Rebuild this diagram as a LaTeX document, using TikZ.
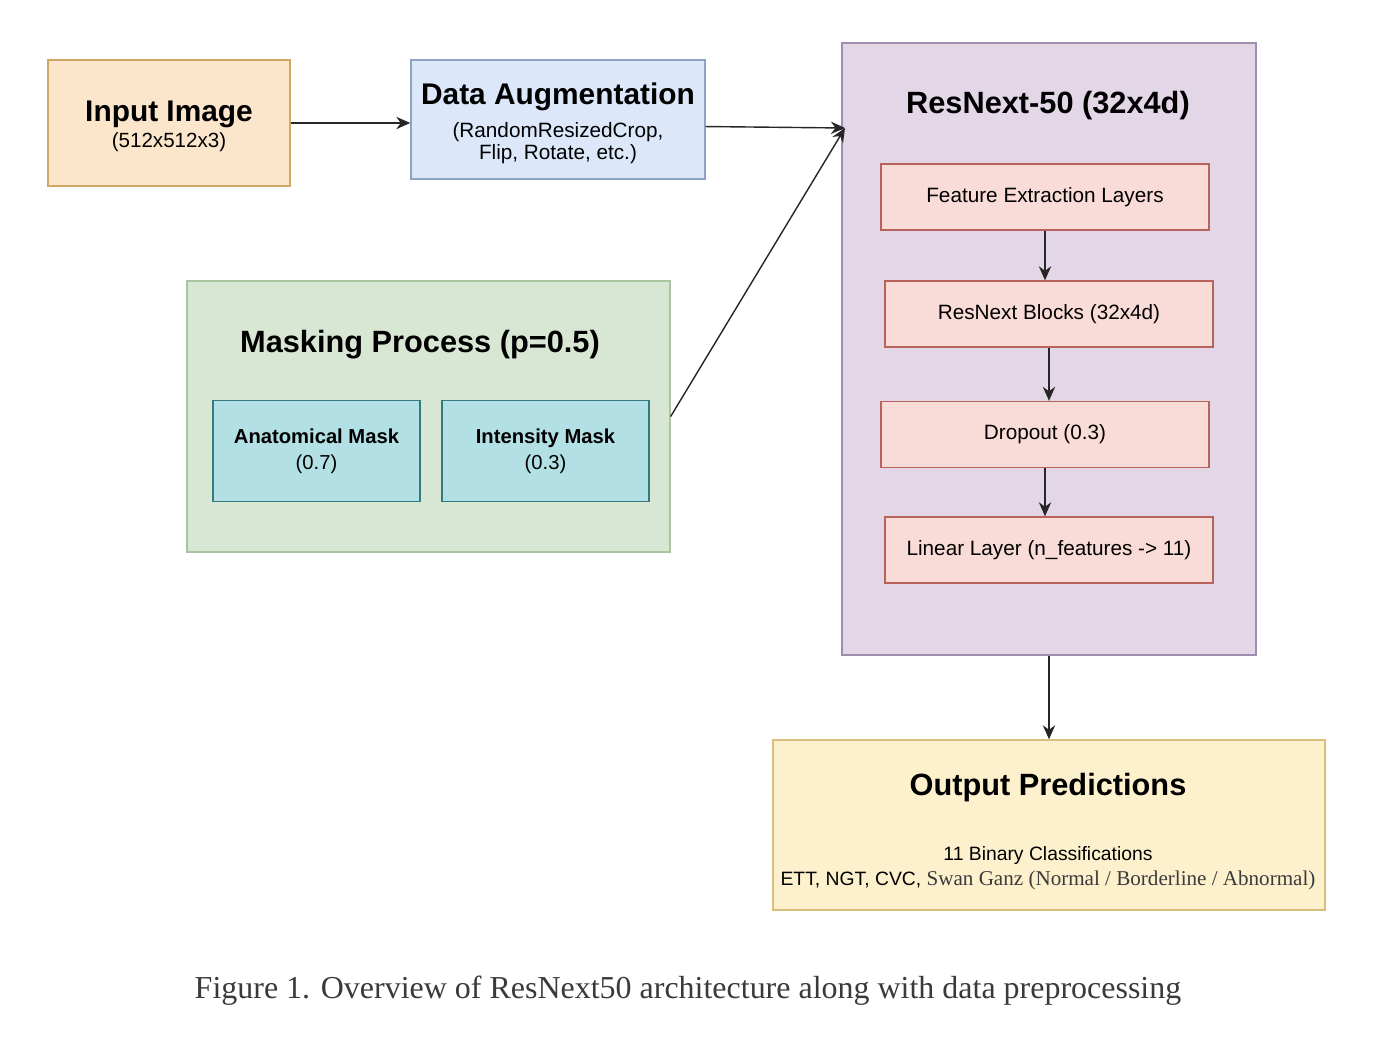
\documentclass[tikz,border=0pt]{standalone}
\usepackage{fontspec}
\setmainfont{Liberation Sans}
\newfontfamily\capserif{Liberation Serif}
\usetikzlibrary{arrows.meta,positioning}
\definecolor{inFill}{HTML}{FBE5CB}
\definecolor{inLine}{HTML}{D2A766}
\definecolor{augFill}{HTML}{DCE8FA}
\definecolor{augLine}{HTML}{8CA3C6}
\definecolor{mskFill}{HTML}{D8E7D4}
\definecolor{mskLine}{HTML}{A9C59F}
\definecolor{subFill}{HTML}{B3E0E4}
\definecolor{subLine}{HTML}{357A82}
\definecolor{netFill}{HTML}{E2D6E7}
\definecolor{netLine}{HTML}{A08CAE}
\definecolor{layFill}{HTML}{F9DCD7}
\definecolor{layLine}{HTML}{B8625C}
\definecolor{outFill}{HTML}{FDF1CD}
\definecolor{outLine}{HTML}{D9BE7C}
\definecolor{capGray}{HTML}{3A3A3A}
\begin{document}
\begin{tikzpicture}[x=0.02cm,y=-0.02cm,
    box/.style={draw, line width=0.8pt, inner sep=2pt, align=center},
    layer/.style={box, fill=layFill, draw=layLine, minimum width=6.56cm, minimum height=1.32cm,
      font=\fontsize{11.8}{14}\selectfont},
    masknode/.style={box, fill=subFill, draw=subLine, minimum width=4.14cm, minimum height=2.02cm,
      font=\fontsize{11.5}{15}\selectfont},
    headline/.style={font=\bfseries\fontsize{17.5}{20}\selectfont},
    arr/.style={-{Stealth[length=8pt,width=7pt]}, line width=0.8pt, draw=black!85}]
  \useasboundingbox (0,0) rectangle (1380,1056);
  % Containers
  \node[box, fill=netFill, draw=netLine, minimum width=8.28cm, minimum height=12.24cm] (resnext) at (1049,349) {};
  \node[headline] (resnext-title) at (1048,106) {ResNext-50 (32x4d)};
  \node[box, fill=mskFill, draw=mskLine, minimum width=9.66cm, minimum height=5.42cm] (masking) at (428.5,416.5) {};
  \node[headline] (masking-title) at (420,345) {Masking Process (p=0.5)};
  % Inputs
  \node[box, fill=inFill, draw=inLine, minimum width=4.84cm, minimum height=2.52cm,
    font=\fontsize{11.7}{12}\selectfont] (input) at (169,123)
    {\rule{0pt}{15.5pt}\bfseries\fontsize{17}{19}\selectfont Input Image\\[1.4pt](512x512x3)};
  \node[box, fill=augFill, draw=augLine, minimum width=5.88cm, minimum height=2.38cm,
    font=\fontsize{11.8}{12.5}\selectfont] (aug) at (558,119.5)
    {\rule{0pt}{16.5pt}\bfseries\fontsize{17}{19}\selectfont Data Augmentation\\[6pt]
     (RandomResizedCrop,\\Flip, Rotate, etc.)};
  \node[masknode] (anatomical) at (316.5,451) {\textbf{Anatomical Mask}\\(0.7)};
  \node[masknode] (intensity) at (545.5,451) {\textbf{Intensity Mask}\\(0.3)};
  % Layers
  \node[layer] (features) at (1045,197) {Feature Extraction Layers};
  \node[layer] (blocks) at (1049,314) {ResNext Blocks (32x4d)};
  \node[layer] (dropout) at (1045,434.5) {Dropout (0.3)};
  \node[layer] (linear) at (1049,550) {Linear Layer (n\_features -> 11)};
  % Output
  \node[box, fill=outFill, draw=outLine, minimum width=11.04cm, minimum height=3.4cm] (output) at (1049,825) {};
  \node[headline] (output-title) at (1048,788) {Output Predictions};
  \node[align=center, font=\fontsize{11}{14}\selectfont] (output-text) at (1048,868)
    {11 Binary Classifications\\ETT, NGT, CVC, {\capserif\fontsize{12}{14}\selectfont\color{capGray}Swan Ganz (Normal / Borderline / Abnormal)}};
  % Caption
  \node[font=\capserif\fontsize{18.2}{21}\selectfont, text=capGray] (caption) at (688,991)
    {Figure 1. Overview of ResNext50 architecture along with data preprocessing};
  % Edges
  \coordinate (join) at (845,128);
  \draw[arr] (input.east) -- (input.east -| aug.west);
  \draw[arr] ([yshift=-4pt]aug.east) -- (join);
  \draw[arr] (masking.east) -- (join);
  \draw[arr] (features.south) -- (features.south |- blocks.north);
  \draw[arr] (blocks.south) -- (blocks.south |- dropout.north);
  \draw[arr] (dropout.south) -- (dropout.south |- linear.north);
  \draw[arr] (resnext.south) -- (output.north);
\end{tikzpicture}
\end{document}
